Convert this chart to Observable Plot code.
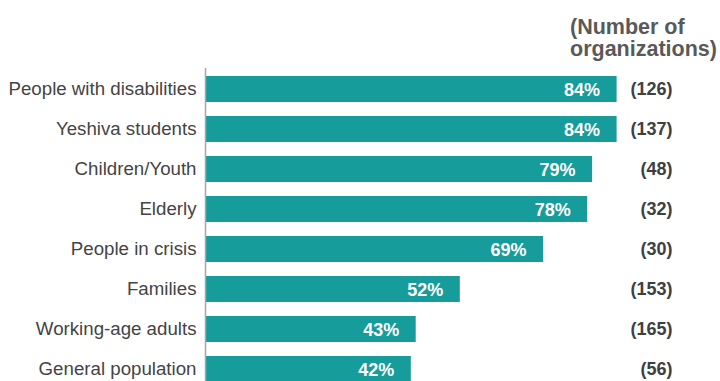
<!DOCTYPE html>
<html>
<head>
<meta charset="utf-8">
<script src="https://cdn.jsdelivr.net/npm/d3@7"></script>
<script src="https://cdn.jsdelivr.net/npm/@observablehq/plot@0.6"></script>
<style>
  html, body { margin: 0; padding: 0; background: #fff; overflow: hidden; }
  #wrap { position: relative; width: 720px; height: 381px; font-family: "Liberation Sans", Arial, sans-serif; }
  #head { position: absolute; left: 570px; top: 16px; font-weight: bold; font-size: 21.5px; line-height: 22px; color: #595959; white-space: nowrap; }
  #chart { position: absolute; left: 0; top: 0; }
</style>
</head>
<body>
<div id="wrap">
  <div id="chart"></div>
  <div id="head">(Number of<br>organizations)</div>
</div>
<script>
const categories = ["People with disabilities", "Yeshiva students", "Children/Youth", "Elderly", "People in crisis", "Families", "Working-age adults", "General population"];
const percents = [84, 84, 79, 78, 69, 52, 43, 42];
const counts = [126, 137, 48, 32, 30, 153, 165, 56];

const data = categories.map((c, i) => ({category: c, pct: percents[i], n: counts[i]}));

const chart = Plot.plot({
  width: 720,
  height: 381,
  marginLeft: 205,
  marginRight: 25,
  marginTop: 68,
  marginBottom: 0,
  style: {fontFamily: "'Liberation Sans', Arial, sans-serif", background: "white", overflow: "hidden"},
  x: {domain: [0, 100], axis: null},
  y: {domain: categories, range: [69, 389], paddingInner: 0.35, paddingOuter: 0.175, align: 0.5, label: null},
  marks: [
    Plot.barX(data, {x: "pct", y: "category", fill: "#169c9a"}),
    Plot.ruleX([0], {stroke: "#a6a6a6", strokeWidth: 1.5}),
    Plot.axisY({tickSize: 0, tickPadding: 9, fontSize: 18.7, color: "#444444", label: null}),
    Plot.text(data, {x: "pct", y: "category", text: d => d.pct + "%", textAnchor: "end", dx: -17, dy: 1, fill: "white", fontWeight: "bold", fontSize: 18}),
    Plot.text(data, {y: "category", text: d => "(" + d.n + ")", frameAnchor: "right", textAnchor: "end", dx: -23, fill: "#404040", fontWeight: "bold", fontSize: 18})
  ]
});
document.getElementById("chart").appendChild(chart);
</script>
</body>
</html>
